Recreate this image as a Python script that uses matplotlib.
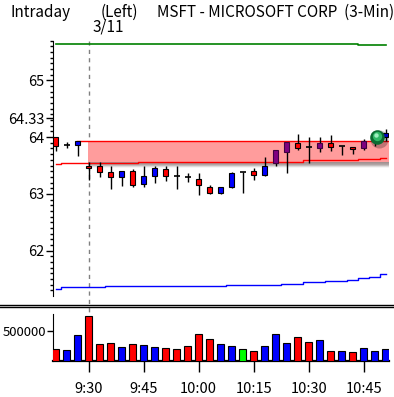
import numpy as np
import pandas as pd
import matplotlib
matplotlib.use("Agg")
import matplotlib.pyplot as plt
from matplotlib.patches import Rectangle
from matplotlib.lines import Line2D

plt.rcParams['font.family'] = ['Noto Sans CJK JP', 'DejaVu Sans']

# ---------------------------------------------------------------------------
# data (3-minute bars, MSFT intraday 3/11)
# ---------------------------------------------------------------------------
times = pd.date_range("2011-03-11 09:21", periods=31, freq="3min")

opens  = [63.84, 63.86, 63.93, 63.46, 63.38, 63.29, 63.40, 63.15, 63.31, 63.45,
          63.32, 63.31, 63.29, 63.15, 63.02, 63.13, 63.36, 63.39, 63.34, 63.49,
          63.55, 63.74, 63.81, 63.82, 63.81, 63.83, 63.84, 63.79, 63.81, 63.99, 64.08]
highs  = [64.01, 63.91, 63.94, 63.56, 63.56, 63.49, 63.40, 63.43, 63.49, 63.49,
          63.49, 63.49, 63.36, 63.36, 63.16, 63.13, 63.38, 63.39, 63.46, 63.65,
          63.78, 63.91, 64.06, 64.01, 64.01, 64.04, 63.84, 63.83, 63.96, 64.01, 64.14]
lows   = [63.76, 63.80, 63.67, 63.24, 63.29, 63.09, 63.14, 63.13, 63.13, 63.20,
          63.23, 63.09, 63.21, 62.98, 62.99, 62.99, 63.10, 63.02, 63.24, 63.32,
          63.50, 63.37, 63.78, 63.54, 63.74, 63.75, 63.68, 63.71, 63.77, 63.84, 63.94]
closes = [64.00, 63.86, 63.87, 63.50, 63.49, 63.38, 63.29, 63.40, 63.17, 63.32,
          63.43, 63.31, 63.29, 63.27, 63.13, 63.02, 63.13, 63.39, 63.40, 63.34,
          63.78, 63.91, 63.89, 63.82, 63.89, 63.90, 63.84, 63.83, 63.93, 63.96, 64.00]
candle_kind = ['r', 'd', 'b', 'r', 'r', 'r', 'b', 'r', 'b', 'b',
               'r', 'd', 'd', 'r', 'r', 'b', 'b', 'd', 'r', 'b',
               'p', 'p', 'r', 'd', 'p', 'r', 'd', 'r', 'p', 'b', 'b']

volumes = [197e3, 180e3, 438e3, 758e3, 281e3, 298e3, 230e3, 281e3, 264e3, 230e3,
           213e3, 197e3, 247e3, 449e3, 365e3, 281e3, 247e3, 197e3, 163e3, 247e3,
           449e3, 298e3, 399e3, 315e3, 348e3, 163e3, 163e3, 146e3, 213e3, 163e3, 197e3]
volume_kind = ['r', 'b', 'b', 'r', 'r', 'r', 'b', 'r', 'b', 'b',
               'r', 'r', 'r', 'r', 'r', 'b', 'b', 'g', 'r', 'b',
               'b', 'b', 'r', 'r', 'b', 'r', 'b', 'r', 'b', 'b', 'b']

# indicator lines (per bar)
upper_line = [65.65] * 28 + [65.63] * 3
mid_line = [63.52] + [63.54] * 7 + [63.56] * 12 + [63.57] * 3 + [63.59] * 3 + \
           [63.60] * 2 + [63.62] * 2 + [63.64]
lower_line = [61.32] + [61.35] * 4 + [61.37] * 11 + [61.39] * 3 + [61.40] * 2 + \
             [61.42] * 2 + [61.44] * 2 + [61.46, 61.47, 61.49, 61.51, 61.53, 61.58]

band_top = 63.94
band_bottom = 63.49
last_price = 64.00
session_start = "09:30"

y_ticks = [62, 63, 64, 64.33, 65]
y_ticklabels = ["62", "63", "64", "64.33", "65"]

colors = {'r': '#ff0000', 'b': '#0000ff', 'p': '#800080', 'g': '#00ff00', 'd': 'black'}
FS = 10.5

# ---------------------------------------------------------------------------
W, H = 394, 397
fig = plt.figure(figsize=(W / 100, H / 100), dpi=100)


def px_axes(left, top, right, bottom):
    return fig.add_axes([left / W, (H - bottom) / H, (right - left) / W, (bottom - top) / H])


ax = px_axes(53, 40.7, 389, 296)
axv = px_axes(53, 314, 389, 361)
for a in (ax, axv):
    a.set_facecolor('none')
    for s in ('top', 'right'):
        a.spines[s].set_visible(False)

x = np.arange(len(times))
xlim = (-0.245, 30.3)
start_idx = int(np.where(times.strftime("%H:%M") == session_start)[0][0])

# ---- price panel ----------------------------------------------------------
ax.set_xlim(*xlim)
ax.set_ylim(61.20, 65.69)

# band
ax.fill_between([start_idx - 0.06, xlim[1]], band_bottom + 0.04, band_top,
                color='#ff9c9c', lw=0, zorder=1)
grad = np.zeros((40, 1, 4))
t = np.linspace(0, 1, 40)[:, None]
grad[..., 0] = (1 - t) * 0.62 + t * 0.78
grad[..., 1] = (1 - t) * 0.55 + t * 0.78
grad[..., 2] = (1 - t) * 0.55 + t * 0.78
grad[..., 3] = np.where(t < 0.5, 1.0, (1 - t) * 2)
ax.imshow(grad, extent=[start_idx - 0.06, xlim[1], band_bottom - 0.04, band_bottom + 0.06],
          aspect='auto', zorder=1.5, interpolation='bilinear')
ax.plot([1.94, xlim[1]], [band_top, band_top], color='#ff0000', lw=1, zorder=2)

ax.step(x, upper_line, where='mid', color='#008000', lw=1.2, zorder=2)
ax.step(x, mid_line, where='mid', color='#ff0000', lw=1, zorder=2)
ax.step(x, lower_line, where='mid', color='#0000ff', lw=1, zorder=2)
ax.set_xlim(*xlim)

bw = 0.45
for i in range(len(x)):
    k = candle_kind[i]
    ax.vlines(x[i], lows[i], highs[i], color='black', lw=1, zorder=3)
    if k == 'd':
        ax.hlines(opens[i], x[i] - bw / 2 - 0.05, x[i] + bw / 2 + 0.05,
                  color='black', lw=1.2, zorder=4)
    else:
        lo, hi = min(opens[i], closes[i]), max(opens[i], closes[i])
        edge = '#400040' if k == 'p' else 'black'
        ax.add_patch(Rectangle((x[i] - bw / 2, lo), bw, hi - lo, facecolor=colors[k],
                               edgecolor=edge, lw=0.8, zorder=4))

# current price marker
ax.scatter([29.35], [last_price - 0.03], s=170, color='black', alpha=0.25, lw=0, zorder=5)
ax.scatter([29.25], [last_price], s=110, color='#0b6b32', lw=0, zorder=6)
ax.scatter([29.2], [last_price + 0.02], s=45, color='#2fb865', lw=0, zorder=7)
ax.scatter([29.15], [last_price + 0.03], s=10, color='#9ff0c0', lw=0, zorder=8)

ax.spines['bottom'].set_visible(False)
ax.set_xticks([])
ax.set_yticks(y_ticks)
ax.set_yticklabels(y_ticklabels, fontsize=FS)
ax.set_yticks(np.arange(61.3, 65.7, 0.1), minor=True)
ax.tick_params(axis='y', which='major', length=5, width=1, pad=1)
ax.tick_params(axis='y', which='minor', length=2.5, width=1)

# ---- volume panel ---------------------------------------------------------
axv.set_xlim(*xlim)
axv.set_ylim(0, 791000)
axv.bar(x, volumes, width=0.6, color=[colors[k] for k in volume_kind],
        edgecolor='black', lw=0.8, zorder=3)
axv.set_yticks([500000])
axv.set_yticklabels(["500000"], fontsize=9.5)
axv.tick_params(axis='y', length=4, width=1, pad=1)
tick_idx = [i for i, tm in enumerate(times) if tm.minute % 15 == 0]
axv.set_xticks(tick_idx)
axv.set_xticklabels([f"{times[i].hour}:{times[i].minute:02d}" for i in tick_idx], fontsize=FS)
axv.tick_params(axis='x', length=8, width=1, pad=7)
axv.spines['bottom'].set_linewidth(1.6)

# session divider (dashed) across both panels
fig.lines.append(Line2D([(53 + (start_idx - xlim[0]) * 11) / W] * 2, [(H - 40.7) / H, 36 / H],
                        transform=fig.transFigure, color='#808080', lw=1,
                        ls=(0, (3, 3)), zorder=-1))
# panel separator
for yy in (304.7, 306.7):
    fig.lines.append(Line2D([0, 1], [(H - yy) / H] * 2, transform=fig.transFigure,
                            color='black', lw=1, zorder=1))

# ---- header text ----------------------------------------------------------
fig.text(10.5 / W, (H - 17) / H, "Intraday", fontsize=FS + 0.5, va='baseline')
fig.text(100.5 / W, (H - 17) / H, "(Left)", fontsize=FS + 0.5, va='baseline')
fig.text(157 / W, (H - 17) / H, "MSFT - MICROSOFT CORP  (3-Min)", fontsize=FS + 0.5,
         va='baseline')
fig.text(92.5 / W, (H - 32) / H, "3/11", fontsize=FS + 0.5, va='baseline')

fig.savefig("out.png", dpi=100)
